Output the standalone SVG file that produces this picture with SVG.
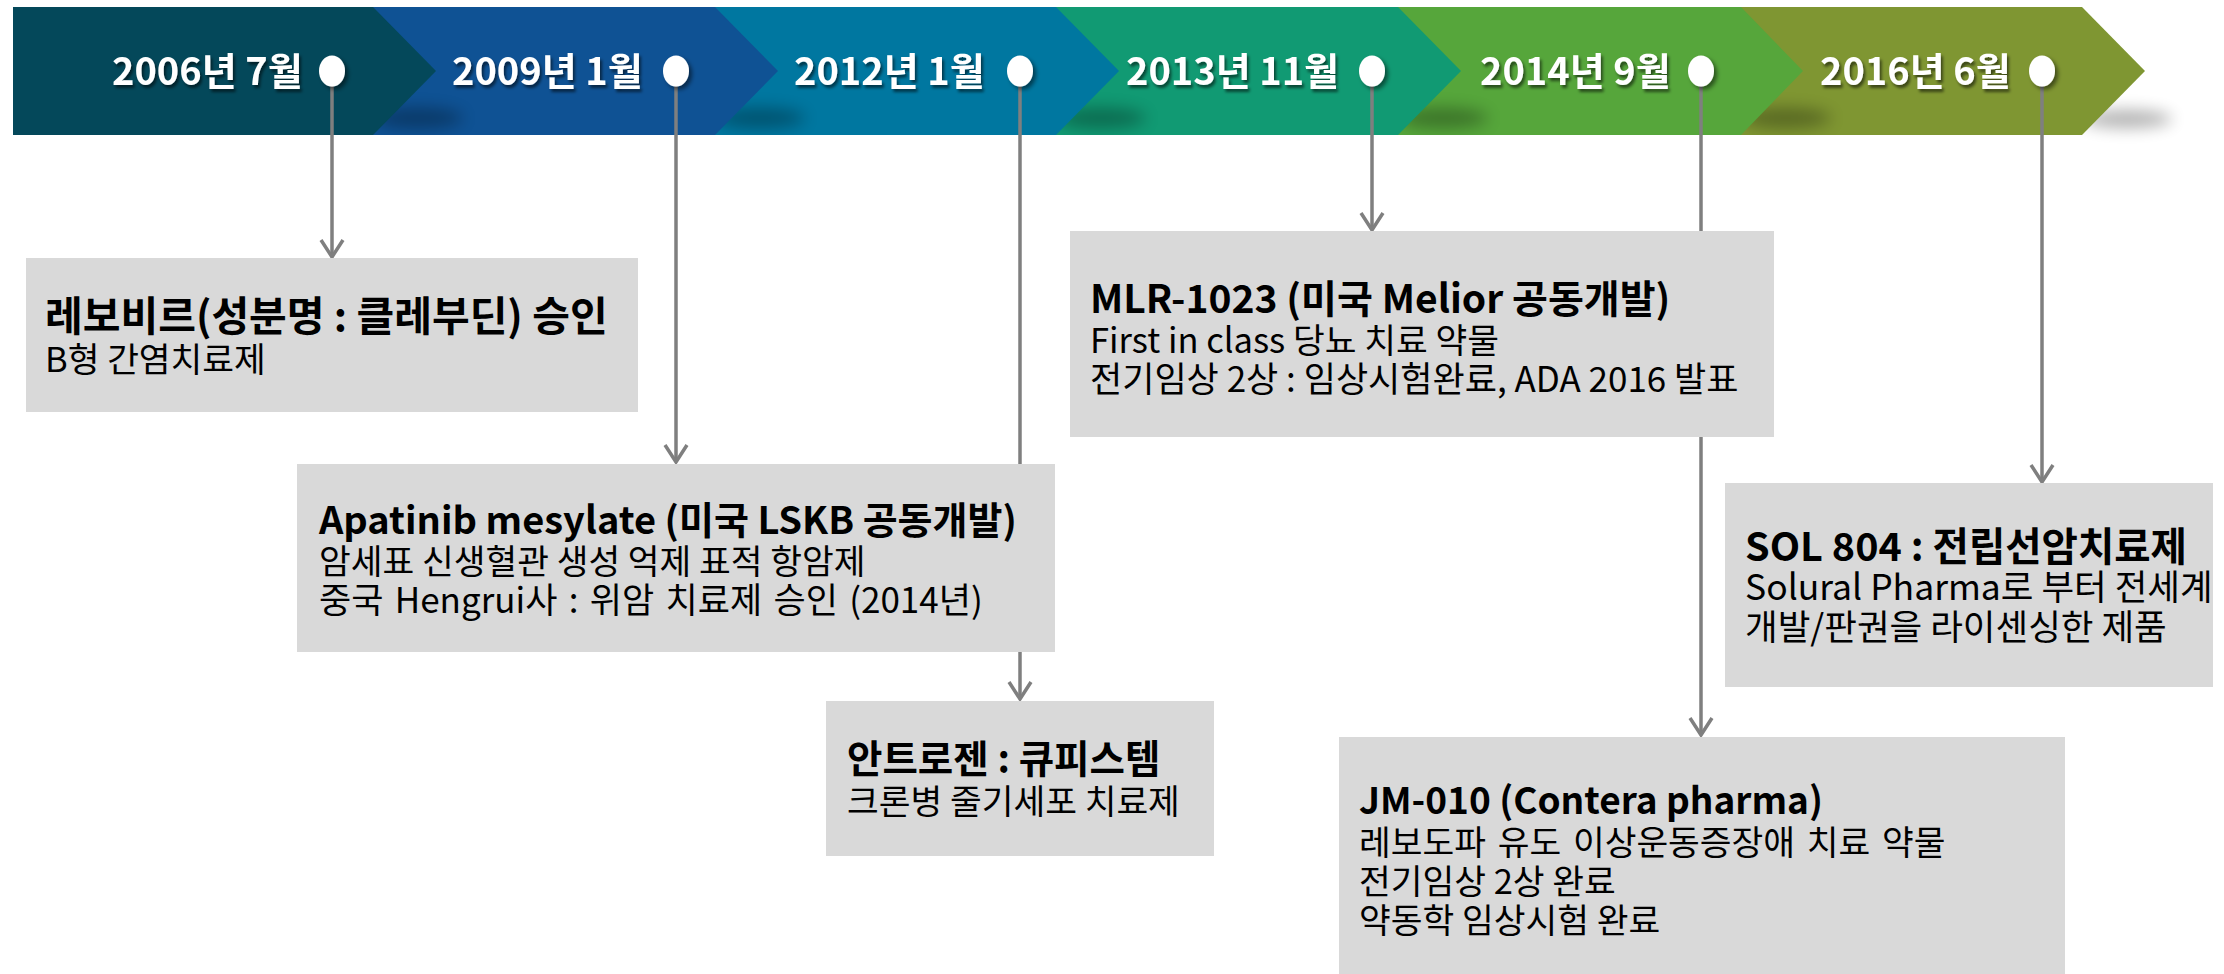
<svg xmlns="http://www.w3.org/2000/svg" width="2224" height="974" viewBox="0 0 2224 974">
<style>
.f{font-family:"Noto Sans CJK KR","Noto Sans",sans-serif}
.d{fill:#fff;font-size:38px;font-weight:700}
.t{fill:#000;font-size:38px;font-weight:700}
.b{fill:#000;font-size:34.5px;font-weight:400}
.box{fill:#D9D9D9}
.ln{stroke:#7F7F7F;stroke-width:3.5;fill:none}
.dot{fill:#fff}
.sh{fill:#000;opacity:0.3}
</style>
<defs>
<filter id="blur" x="-50%" y="-150%" width="200%" height="400%"><feGaussianBlur stdDeviation="8"/></filter>
<filter id="ts" x="-10%" y="-30%" width="120%" height="160%"><feDropShadow dx="2" dy="3" stdDeviation="1.5" flood-color="#000" flood-opacity="0.55"/></filter>
<filter id="ds" x="-60%" y="-40%" width="220%" height="180%"><feDropShadow dx="3" dy="3" stdDeviation="2" flood-color="#000" flood-opacity="0.5"/></filter>
<clipPath id="bc"><rect x="0" y="7" width="2224" height="128"/></clipPath>
<marker id="ah" markerUnits="userSpaceOnUse" markerWidth="26" markerHeight="26" refX="20" refY="13" orient="auto"><path d="M3,2 L20,13 L3,24" fill="none" stroke="#7F7F7F" stroke-width="3.5"/></marker>
</defs>

<g id="banner">
<ellipse class="sh" cx="2127" cy="119" rx="45" ry="9" filter="url(#blur)" opacity="0.25"/>
<polygon points="1741,7 2082,7 2145,71 2082,135 1741,135" fill="#7F9632"/>
<ellipse class="sh" cx="1786" cy="118" rx="45" ry="10" filter="url(#blur)" clip-path="url(#bc)"/>
<polygon points="1398,7 1741,7 1803,71 1741,135 1398,135" fill="#56A63B"/>
<ellipse class="sh" cx="1443" cy="118" rx="45" ry="10" filter="url(#blur)" clip-path="url(#bc)"/>
<polygon points="1056,7 1398,7 1461,71 1398,135 1056,135" fill="#119A73"/>
<ellipse class="sh" cx="1101" cy="118" rx="45" ry="10" filter="url(#blur)" clip-path="url(#bc)"/>
<polygon points="715,7 1056,7 1119,71 1056,135 715,135" fill="#0077A0"/>
<ellipse class="sh" cx="760" cy="118" rx="45" ry="10" filter="url(#blur)" clip-path="url(#bc)"/>
<polygon points="373,7 715,7 778,71 715,135 373,135" fill="#0F5294"/>
<ellipse class="sh" cx="418" cy="118" rx="45" ry="10" filter="url(#blur)" clip-path="url(#bc)"/>
<polygon points="13,7 373,7 436,71 373,135 13,135" fill="#04485A"/>
</g>

<g id="connectors">
<line class="ln" x1="332" y1="71" x2="332" y2="257" marker-end="url(#ah)"/>
<line class="ln" x1="676" y1="71" x2="676" y2="462" marker-end="url(#ah)"/>
<line class="ln" x1="1020" y1="71" x2="1020" y2="699" marker-end="url(#ah)"/>
<line class="ln" x1="1372" y1="71" x2="1372" y2="230" marker-end="url(#ah)"/>
<line class="ln" x1="1701" y1="71" x2="1701" y2="735" marker-end="url(#ah)"/>
<line class="ln" x1="2042" y1="71" x2="2042" y2="482" marker-end="url(#ah)"/>
</g>

<g id="date-2006">
<text class="f d" x="112" y="85" filter="url(#ts)">2006년 7월</text>
<ellipse class="dot" cx="332" cy="71" rx="13" ry="15.5" filter="url(#ds)"/>
</g>
<g id="date-2009">
<text class="f d" x="452" y="85" filter="url(#ts)">2009년 1월</text>
<ellipse class="dot" cx="676" cy="71" rx="13" ry="15.5" filter="url(#ds)"/>
</g>
<g id="date-2012">
<text class="f d" x="794" y="85" filter="url(#ts)">2012년 1월</text>
<ellipse class="dot" cx="1020" cy="71" rx="13" ry="15.5" filter="url(#ds)"/>
</g>
<g id="date-2013">
<text class="f d" x="1126" y="85" filter="url(#ts)">2013년 11월</text>
<ellipse class="dot" cx="1372" cy="71" rx="13" ry="15.5" filter="url(#ds)"/>
</g>
<g id="date-2014">
<text class="f d" x="1480" y="85" filter="url(#ts)">2014년 9월</text>
<ellipse class="dot" cx="1701" cy="71" rx="13" ry="15.5" filter="url(#ds)"/>
</g>
<g id="date-2016">
<text class="f d" x="1820" y="85" filter="url(#ts)">2016년 6월</text>
<ellipse class="dot" cx="2042" cy="71" rx="13" ry="15.5" filter="url(#ds)"/>
</g>

<g id="node-levovir">
<rect class="box" x="26" y="258" width="612" height="154"/>
<text class="f t" x="45" y="331" style="font-size:41px">레보비르(성분명 : 클레부딘) 승인</text>
<text class="f b" x="45" y="372">B형 간염치료제</text>
</g>

<g id="node-apatinib">
<rect class="box" x="297" y="464" width="758" height="188"/>
<text class="f t" x="319" y="534">Apatinib mesylate (미국 LSKB 공동개발)</text>
<text class="f b" x="319" y="574">암세표 신생혈관 생성 억제 표적 항암제</text>
<text class="f b" x="319" y="613" style="font-size:35px;word-spacing:3.5px">중국 Hengrui사 : 위암 치료제 승인 (2014년)</text>
</g>

<g id="node-anterogen">
<rect class="box" x="826" y="701" width="388" height="155"/>
<text class="f t" x="847" y="773" style="font-size:38.5px">안트로젠 : 큐피스템</text>
<text class="f b" x="847" y="814">크론병 줄기세포 치료제</text>
</g>

<g id="node-mlr">
<rect class="box" x="1070" y="231" width="704" height="206"/>
<text class="f t" x="1090" y="313" style="font-size:39px">MLR-1023 (미국 Melior 공동개발)</text>
<text class="f b" x="1090" y="353">First in class 당뇨 치료 약물</text>
<text class="f b" x="1090" y="392" style="font-size:35px">전기임상 2상 : 임상시험완료, ADA 2016 발표</text>
</g>

<g id="node-jm010">
<rect class="box" x="1339" y="737" width="726" height="237"/>
<text class="f t" x="1359" y="814" style="font-size:37px">JM-010 (Contera pharma)</text>
<text class="f b" x="1359" y="855" style="word-spacing:4px">레보도파 유도 이상운동증장애 치료 약물</text>
<text class="f b" x="1359" y="894">전기임상 2상 완료</text>
<text class="f b" x="1359" y="933">약동학 임상시험 완료</text>
</g>

<g id="node-sol804">
<rect class="box" x="1725" y="483" width="488" height="204"/>
<text class="f t" x="1745" y="561" style="font-size:39.5px">SOL 804 : 전립선암치료제</text>
<text class="f b" x="1745" y="600" style="font-size:35.5px">Solural Pharma로 부터 전세계</text>
<text class="f b" x="1745" y="640" style="font-size:35.5px">개발/판권을 라이센싱한 제품</text>
</g>
</svg>
